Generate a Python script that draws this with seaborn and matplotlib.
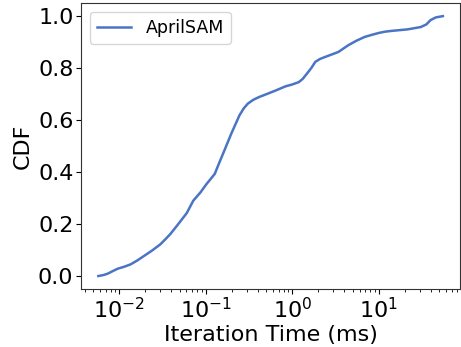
import numpy as np
import pandas as pd
import matplotlib
matplotlib.use("Agg")
import matplotlib.pyplot as plt
import seaborn as sns

# log10 of iteration time (ms) and CDF value
log_times = [-2.24, -2.18, -2.133, -2.08, -2.019, -1.94, -1.867, -1.79, -1.714, -1.62,
             -1.524, -1.47, -1.41, -1.333, -1.219, -1.143, -1.06,
             -0.99, -0.895, -0.85, -0.8, -0.705, -0.61, -0.56, -0.514, -0.45, -0.381,
             -0.28, -0.19, -0.076, 0.0, 0.076, 0.12,
             0.171, 0.22, 0.267, 0.32, 0.381, 0.533, 0.648, 0.74, 0.838, 0.92, 0.998, 1.07,
             1.143, 1.333, 1.486, 1.55, 1.6, 1.66, 1.741]
cdf_values = [0.0, 0.004, 0.009, 0.018, 0.028, 0.036, 0.045, 0.06, 0.077, 0.098,
              0.122, 0.14, 0.161, 0.193, 0.242, 0.29, 0.322,
              0.354, 0.393, 0.43, 0.47, 0.547, 0.618, 0.645, 0.663, 0.678, 0.689,
              0.702, 0.714, 0.73, 0.737, 0.746, 0.758,
              0.779, 0.8, 0.824, 0.835, 0.843, 0.862, 0.888, 0.905, 0.920, 0.928, 0.935, 0.940,
              0.943, 0.949, 0.958, 0.968, 0.985, 0.995, 1.0]
series_name = "AprilSAM"

df = pd.DataFrame({"time": np.power(10.0, log_times), "cdf": cdf_values,
                   "method": series_name})

plt.rcParams["font.family"] = ["DejaVu Sans"]
fig, ax = plt.subplots(figsize=(4.61, 3.47), dpi=100)
sns.lineplot(data=df, x="time", y="cdf", hue="method", palette=["#4a74c4"],
             linewidth=1.8, ax=ax, sort=False)
ax.set_xscale("log")
ax.set_xlabel("Iteration Time (ms)", fontsize=16, labelpad=2)
ax.set_ylabel("CDF", fontsize=16)
ax.tick_params(axis="both", labelsize=16, pad=2)
ax.set_yticks([0.0, 0.2, 0.4, 0.6, 0.8, 1.0])
ax.set_yticklabels(["0.0", "0.2", "0.4", "0.6", "0.8", "1.0"])
for s in ax.spines.values():
    s.set_color("#333333")
ax.legend(loc="upper left", fontsize=12.5, title=None)
fig.subplots_adjust(left=0.176, right=0.998, bottom=0.167, top=0.991)
fig.savefig("out.png", dpi=100)
